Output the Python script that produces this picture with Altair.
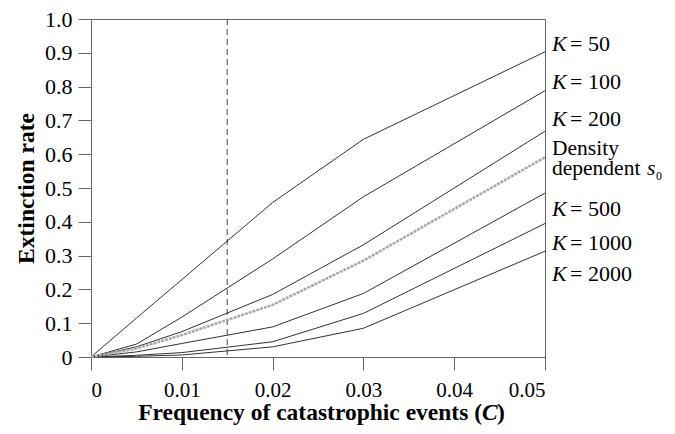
import altair as alt
import pandas as pd

# Frequency of catastrophic events (x)
C = [0, 0.005, 0.01, 0.02, 0.03, 0.05]
# Extinction rates per carrying capacity
k50 = [0, 0.115, 0.229, 0.457, 0.644, 0.903]
k100 = [0, 0.038, 0.118, 0.290, 0.474, 0.788]
k200 = [0, 0.030, 0.075, 0.185, 0.332, 0.668]
k500 = [0, 0.015, 0.040, 0.089, 0.188, 0.485]
k1000 = [0, 0.005, 0.013, 0.045, 0.129, 0.395]
k2000 = [0, 0.002, 0.006, 0.030, 0.085, 0.313]
dens = [0, 0.025, 0.065, 0.154, 0.285, 0.591]

series_names = ["50", "100", "200", "500", "1000", "2000"]
series_vals = [k50, k100, k200, k500, k1000, k2000]

# right-hand labels (label anchor heights in data units)
label_y = [0.926, 0.815, 0.703, 0.438, 0.338, 0.247]
dens_label_y = [0.615, 0.556]

threshold = 0.015
x_ticks = [0, 0.01, 0.02, 0.03, 0.04, 0.05]
y_ticks = [0, 0.1, 0.2, 0.3, 0.4, 0.5, 0.6, 0.7, 0.8, 0.9, 1.0]

FONT = "Liberation Serif"

rows = []
for name, vals in zip(series_names, series_vals):
    for cx, v in zip(C, vals):
        rows.append({"K": name, "C": cx, "rate": v})
df = pd.DataFrame(rows)
df_dens = pd.DataFrame({"C": C, "rate": dens})
df_lab = pd.DataFrame({"K": series_names, "C": [C[-1]] * len(series_names), "y": label_y,
                       "txt": ["= " + n for n in series_names]})
df_rule = pd.DataFrame({"C": [threshold]})
df_dlab = pd.DataFrame({"C": [C[-1]], "y1": [dens_label_y[0]], "y2": [dens_label_y[1]]})

xs = alt.Scale(domain=[0, 0.05], nice=False)
ys = alt.Scale(domain=[0, 1], nice=False)

xaxis = alt.Axis(values=x_ticks, labelExpr="datum.value == 0 ? '0' : format(datum.value, '.2f')",
                 tickSize=13, labelPadding=9, grid=False, domainColor="#666", tickColor="#666",
                 labelFont=FONT, labelFontSize=21, labelColor="black", labelOverlap=False,
                 tickCount=6, title=None)
yaxis = alt.Axis(values=y_ticks, labelExpr="datum.value == 0 ? '0' : format(datum.value, '.1f')",
                 tickSize=13, labelPadding=6, grid=False, domainColor="#666", tickColor="#666",
                 labelFont=FONT, labelFontSize=22, labelColor="black", labelOverlap=False,
                 labelFlush=False, tickCount=11,
                 title="Extinction rate", titleFont=FONT, titleFontSize=23.5, titleFontWeight="bold",
                 titleColor="black", titlePadding=6)


def X(field):
    return alt.X(field, type="quantitative", scale=xs, axis=xaxis)


def Y(field):
    return alt.Y(field, type="quantitative", scale=ys, axis=yaxis)


lines = alt.Chart(df).mark_line(color="#333", strokeWidth=1).encode(
    x=X("C"), y=Y("rate"), detail="K:N")
dline = alt.Chart(df_dens).mark_line(color="#a8a8a8", strokeWidth=2.5, strokeDash=[3, 1]).encode(
    x=X("C"), y=Y("rate"))
rule = alt.Chart(df_rule).mark_rule(color="#444", strokeWidth=1, strokeDash=[6, 4]).encode(
    x=X("C"))

kt = alt.Chart(df_lab).mark_text(font=FONT, fontSize=22, fontStyle="italic", align="left",
                                 baseline="middle", dx=7, color="black").encode(
    x=X("C"), y=Y("y"), text=alt.value("K"))
kv = alt.Chart(df_lab).mark_text(font=FONT, fontSize=22, align="left", baseline="middle",
                                 dx=25, color="black").encode(
    x=X("C"), y=Y("y"), text="txt:N")

d1 = alt.Chart(df_dlab).mark_text(font=FONT, fontSize=21.5, align="left", baseline="middle",
                                  dx=7, color="black").encode(
    x=X("C"), y=Y("y1"), text=alt.value("Density"))
d2 = alt.Chart(df_dlab).mark_text(font=FONT, fontSize=21.5, align="left", baseline="middle",
                                  dx=7, color="black").encode(
    x=X("C"), y=Y("y2"), text=alt.value("dependent"))
d3 = alt.Chart(df_dlab).mark_text(font=FONT, fontSize=21.5, fontStyle="italic", align="left",
                                  baseline="middle", dx=102, color="black").encode(
    x=X("C"), y=Y("y2"), text=alt.value("s"))
d4 = alt.Chart(df_dlab).mark_text(font=FONT, fontSize=12, align="left", baseline="middle",
                                  dx=111, dy=7, color="black").encode(
    x=X("C"), y=Y("y2"), text=alt.value("0"))

# x-axis title with italic C
t1 = alt.Chart(df_rule).mark_text(font=FONT, fontSize=23.5, fontWeight="bold", align="right",
                                  baseline="alphabetic", color="black").encode(
    x=alt.value(391), y=alt.value(401), text=alt.value("Frequency of catastrophic events ("))
t2 = alt.Chart(df_rule).mark_text(font=FONT, fontSize=23.5, fontWeight="bold", fontStyle="italic",
                                  align="left", baseline="alphabetic", color="black").encode(
    x=alt.value(391), y=alt.value(401), text=alt.value("C"))
t3 = alt.Chart(df_rule).mark_text(font=FONT, fontSize=23.5, fontWeight="bold", align="left",
                                  baseline="alphabetic", color="black").encode(
    x=alt.value(406), y=alt.value(401), text=alt.value(")"))

chart = alt.layer(rule, lines, dline, kt, kv, d1, d2, d3, d4, t1, t2, t3).properties(
    width=454, height=338,
    autosize=alt.AutoSizeParams(type="none"),
    padding={"left": 83, "top": 11, "right": 122, "bottom": 69},
).configure_view(stroke="#666", strokeWidth=1)

chart.save("out.html", embed_options={"renderer": "svg", "actions": False})
